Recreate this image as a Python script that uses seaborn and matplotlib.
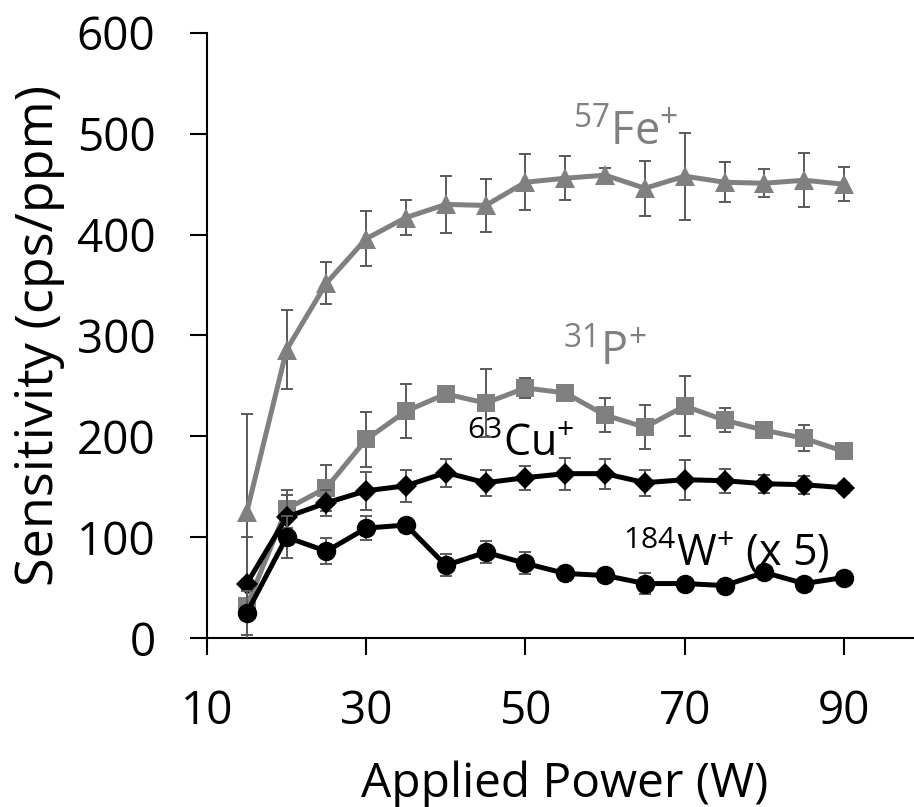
import numpy as np
import pandas as pd
import matplotlib
matplotlib.use('Agg')
import matplotlib.pyplot as plt
import seaborn as sns

# ── Data ──────────────────────────────────────────────────────────────────
power = [15, 20, 25, 30, 35, 40, 45, 50, 55, 60, 65, 70, 75, 80, 85, 90]

fe     = [125, 286, 352, 396, 417, 430, 429, 452, 456, 459, 446, 458, 452, 451, 454, 450]
fe_err = [97, 39, 21, 27, 17, 28, 26, 28, 22, 7, 27, 43, 20, 14, 27, 17]

p      = [32, 128, 149, 197, 225, 242, 233, 248, 243, 221, 209, 230, 216, 206, 198, 185]
p_err  = [68, 19, 23, 27, 27, 5, 34, 10, 5, 17, 22, 30, 12, 4, 13, 4]

cu     = [54, 120, 134, 146, 151, 164, 154, 159, 163, 163, 154, 157, 156, 153, 152, 149]
cu_err = [5, 22, 13, 19, 16, 14, 13, 12, 16, 15, 13, 20, 12, 9, 9, 5]

w      = [25, 100, 86, 109, 112, 72, 85, 74, 64, 62, 54, 54, 52, 65, 54, 60]
w_err  = [22, 21, 13, 12, 5, 11, 11, 11, 5, 5, 10, 5, 5, 5, 5, 5]

x_ticks = [10, 30, 50, 70, 90]
y_ticks = [0, 100, 200, 300, 400, 500, 600]

GRAY  = "#808080"
BLACK = "#000000"
ERRC  = "#5a5a5a"

# ── Style ─────────────────────────────────────────────────────────────────
sns.set_style("ticks")
plt.rcParams['font.family'] = ['Open Sans', 'DejaVu Sans']
plt.rcParams['mathtext.fontset'] = 'custom'
plt.rcParams['mathtext.rm'] = 'Open Sans'
plt.rcParams['text.color'] = 'black'
plt.rcParams['axes.labelcolor'] = 'black'
plt.rcParams['xtick.color'] = 'black'
plt.rcParams['ytick.color'] = 'black'

fig = plt.figure(figsize=(9.14, 8.07), dpi=100)
ax = fig.add_axes([207/914, 1 - 638/807, (914 - 207)/914, (638 - 33)/807])

series = [
    (fe, fe_err, GRAY,  '^', 14.5),
    (p,  p_err,  GRAY,  's', 13.5),
    (cu, cu_err, BLACK, 'D', 11.0),
    (w,  w_err,  BLACK, 'o', 14.0),
]

for i, (vals, err, col, mk, ms) in enumerate(series):
    ax.errorbar(power, vals, yerr=err, fmt='none', ecolor=ERRC,
                elinewidth=1.4, capsize=4.5, capthick=1.4, zorder=2 + 2*i)
    df = pd.DataFrame({"power": power, "val": vals})
    sns.lineplot(data=df, x="power", y="val", ax=ax, color=col, lw=3.6,
                 marker=mk, markersize=ms, markeredgecolor=col,
                 markeredgewidth=0, zorder=3 + 2*i)

# ── Labels on the curves ──────────────────────────────────────────────────
ax.text(56.0, 489, r'$\mathregular{^{57}Fe^{+}}$', color=GRAY, fontsize=32.5, va='baseline')
ax.text(54.7, 271, r'$\mathregular{^{31}P^{+}}$', color=GRAY, fontsize=32.5, va='baseline')
ax.text(42.7, 180, r'$\mathregular{^{63}Cu^{+}}$', color=BLACK, fontsize=31, va='baseline')
ax.text(62.3, 72, r'$\mathregular{^{184}W^{+}}$ (x 5)', color=BLACK, fontsize=31, va='baseline')

# ── Axes ──────────────────────────────────────────────────────────────────
ax.set_xlim(10, 10 + (914 - 206.3) / 7.97)
ax.set_ylim(0, 600)
ax.set_xticks(x_ticks)
ax.set_yticks(y_ticks)
ax.tick_params(axis='both', direction='out', length=12, width=1.5,
               labelsize=33, pad=25, color='black', labelcolor='black')
for s in ['top', 'right']:
    ax.spines[s].set_visible(False)
for s in ['left', 'bottom']:
    ax.spines[s].set_linewidth(1.5)
    ax.spines[s].set_color('black')

ax.set_xlabel("Applied Power (W)", fontsize=34.5, va='baseline')
ax.xaxis.set_label_coords(0.506, (638 - 797) / 605)
ax.set_ylabel("Sensitivity (cps/ppm)", fontsize=37.5, ha='center', va='baseline',
              rotation_mode='anchor')
ax.yaxis.set_label_coords((53 - 207) / 707, 0.50)

fig.savefig("out.png", dpi=100)
